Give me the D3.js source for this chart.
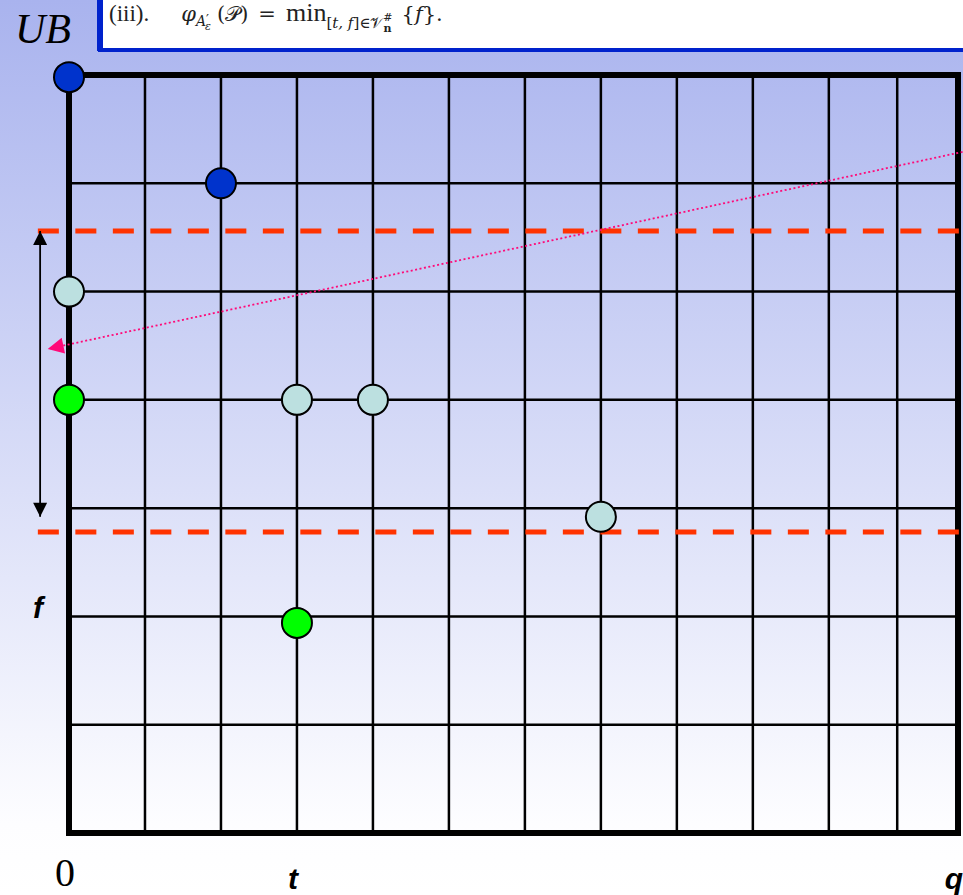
<!DOCTYPE html>
<html>
<head>
<meta charset="utf-8">
<script src="https://cdn.jsdelivr.net/npm/d3@7"></script>
<style>
  html, body { margin: 0; padding: 0; background: #fff; }
  svg { display: block; }
</style>
</head>
<body>
<div id="chart"></div>
<script>
// grid positions (data units: t across, f up)
var gridX = [1, 2, 3, 4, 5, 6, 7, 8, 9, 10, 10.9];
var gridY = [1, 2, 3, 4, 5, 6];

// points on the grid
var bluePoints = [[0, 6.98], [2, 6]];
var cyanPoints = [[0, 5], [3, 4], [4, 4], [7, 2.92]];
var greenPoints = [[0, 4], [3, 1.94]];

// the band limits (red dashed) and the pink hint arrow
var bandLevels = [5.56, 2.78];
var bandArrow = [5.56, 2.92];
var pinkArrow = [[11.76, 6.29], [-0.28, 4.47]];

var width = 963,
  height = 895;

var x = d3.scaleLinear().domain([0, 11.7]).range([69, 958]);
var y = d3.scaleLinear().domain([0, 7]).range([833, 75]);

var svg = d3.select("#chart").append("svg")
  .attr("width", width)
  .attr("height", height);

var defs = svg.append("defs");
var grad = defs.append("linearGradient")
  .attr("id", "bg")
  .attr("x1", 0).attr("y1", 0).attr("x2", 0).attr("y2", 1);
grad.append("stop").attr("offset", "0%").attr("stop-color", "#a9b3ee");
grad.append("stop").attr("offset", "92%").attr("stop-color", "#fdfdff");
grad.append("stop").attr("offset", "100%").attr("stop-color", "#ffffff");

defs.append("marker")
  .attr("id", "blackHead")
  .attr("viewBox", "0 0 10 10")
  .attr("refX", 10).attr("refY", 5)
  .attr("markerWidth", 15).attr("markerHeight", 14)
  .attr("markerUnits", "userSpaceOnUse")
  .attr("orient", "auto-start-reverse")
  .append("path").attr("d", "M0,0L10,5L0,10z").attr("fill", "#000");

defs.append("marker")
  .attr("id", "pinkHead")
  .attr("viewBox", "0 0 10 10")
  .attr("refX", 10).attr("refY", 5)
  .attr("markerWidth", 18).attr("markerHeight", 16)
  .attr("markerUnits", "userSpaceOnUse")
  .attr("orient", "auto")
  .append("path").attr("d", "M0,0L10,5L0,10z").attr("fill", "#ff0a78");

svg.append("rect")
  .attr("width", width).attr("height", height)
  .attr("fill", "url(#bg)");

// header box with the formula
svg.append("rect")
  .attr("x", 100).attr("y", -5)
  .attr("width", 880).attr("height", 55)
  .attr("fill", "#fff")
  .attr("stroke", "#0022cc").attr("stroke-width", 4);
svg.append("rect")
  .attr("x", 97).attr("y", 0)
  .attr("width", 6).attr("height", 51)
  .attr("fill", "#0022cc");

svg.append("text")
  .attr("x", 15).attr("y", 43)
  .attr("font-family", "Liberation Serif")
  .attr("font-style", "italic")
  .attr("font-size", 42)
  .text("UB");

var formula = svg.append("text")
  .attr("x", 109).attr("y", 21)
  .attr("font-family", "DejaVu Serif")
  .attr("font-size", 21)
  .attr("fill", "#222");
formula.append("tspan").attr("font-family", "Liberation Serif").attr("font-size", 23).text("(iii).");
formula.append("tspan").attr("dx", 32).attr("font-style", "italic").text("φ");
formula.append("tspan").attr("dy", 5).attr("font-size", 14).attr("font-style", "italic").text("A");
formula.append("tspan").attr("dy", -2).attr("font-size", 13).text("′");
formula.append("tspan").attr("dx", -4).attr("dy", 6).attr("font-size", 11).attr("font-style", "italic").text("ε");
formula.append("tspan").attr("dx", 6).attr("dy", -9).text("(𝒫)");
formula.append("tspan").attr("dx", 10).text("=");
formula.append("tspan").attr("dx", 10).attr("font-family", "Liberation Serif").attr("font-size", 26).text("min");
formula.append("tspan").attr("dy", 7).attr("font-size", 15).text("[");
formula.append("tspan").attr("font-size", 15).attr("font-style", "italic").text("t, f");
formula.append("tspan").attr("font-size", 15).text("]∈𝒱");
formula.append("tspan").attr("dy", -7).attr("font-size", 11).text("#");
formula.append("tspan").attr("dx", -9).attr("dy", 11).attr("font-size", 11).attr("font-weight", "bold").text("n");
formula.append("tspan").attr("dx", 10).attr("dy", -11).text("{");
formula.append("tspan").attr("font-style", "italic").text("f");
formula.append("tspan").text("}.");

// grid
var grid = svg.append("g").attr("stroke", "#000").attr("stroke-width", 2.5);
grid.selectAll(".vline")
  .data(gridX)
  .enter().append("line")
  .attr("class", "vline")
  .attr("x1", d => x(d)).attr("x2", d => x(d))
  .attr("y1", y(7)).attr("y2", y(0));
grid.selectAll(".hline")
  .data(gridY)
  .enter().append("line")
  .attr("class", "hline")
  .attr("x1", x(0)).attr("x2", x(11.7))
  .attr("y1", d => y(d)).attr("y2", d => y(d));

svg.append("rect")
  .attr("x", x(0)).attr("y", y(7))
  .attr("width", x(11.7) - x(0))
  .attr("height", y(0) - y(7))
  .attr("fill", "none")
  .attr("stroke", "#000")
  .attr("stroke-width", 6);

// band
svg.selectAll(".band")
  .data(bandLevels)
  .enter().append("line")
  .attr("class", "band")
  .attr("x1", x(-0.41)).attr("x2", width + 5)
  .attr("y1", d => y(d)).attr("y2", d => y(d))
  .attr("stroke", "#ff3300")
  .attr("stroke-width", 5)
  .attr("stroke-dasharray", "21,16.5");

svg.append("line")
  .attr("x1", x(-0.38)).attr("x2", x(-0.38))
  .attr("y1", y(bandArrow[0])).attr("y2", y(bandArrow[1]))
  .attr("stroke", "#000")
  .attr("stroke-width", 1.8)
  .attr("marker-start", "url(#blackHead)")
  .attr("marker-end", "url(#blackHead)");

svg.append("line")
  .attr("x1", x(pinkArrow[0][0])).attr("y1", y(pinkArrow[0][1]))
  .attr("x2", x(pinkArrow[1][0])).attr("y2", y(pinkArrow[1][1]))
  .attr("stroke", "#ff0a78")
  .attr("stroke-width", 1.8)
  .attr("stroke-dasharray", "2,2.5")
  .attr("marker-end", "url(#pinkHead)");

// points
function drawPoints(data, fill) {
  svg.append("g").selectAll("circle")
    .data(data)
    .enter().append("circle")
    .attr("cx", d => x(d[0]))
    .attr("cy", d => y(d[1]))
    .attr("r", 15)
    .attr("fill", fill)
    .attr("stroke", "#000")
    .attr("stroke-width", 2);
}
drawPoints(bluePoints, "#0033cc");
drawPoints(cyanPoints, "#bce0e0");
drawPoints(greenPoints, "#00ff00");

// axis labels
svg.append("text")
  .attr("x", x(0) - 4).attr("y", 886)
  .attr("text-anchor", "middle")
  .attr("font-family", "Liberation Serif")
  .attr("font-size", 40)
  .text("0");

var labelStyle = function (sel) {
  sel.attr("font-family", "Liberation Sans")
    .attr("font-weight", "bold")
    .attr("font-style", "italic")
    .attr("font-size", 30)
    .attr("text-anchor", "middle");
};
svg.append("text").call(labelStyle)
  .attr("x", x(3) - 4).attr("y", 889).text("t");
svg.append("text").call(labelStyle)
  .attr("x", 954).attr("y", 889).text("q");
svg.append("text").call(labelStyle)
  .attr("x", 38).attr("y", 618).text("f");
</script>
</body>
</html>
